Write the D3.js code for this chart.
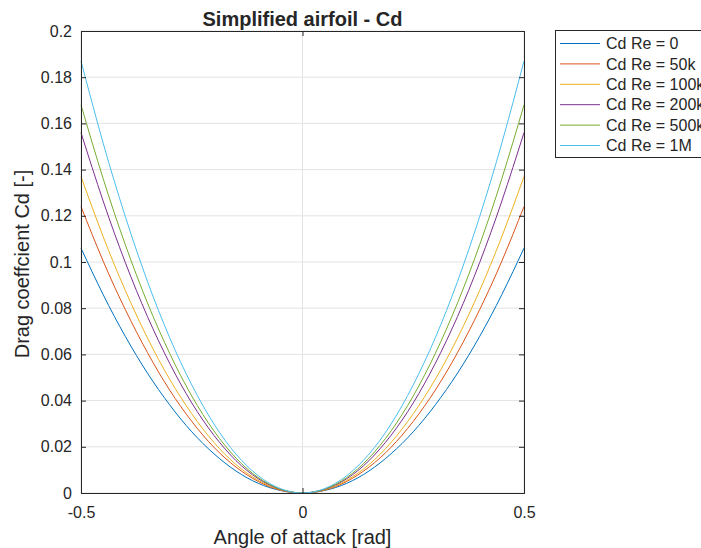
<!DOCTYPE html>
<html>
<head>
<meta charset="utf-8">
<script src="https://cdn.jsdelivr.net/npm/d3@7"></script>
<style>
  body { margin: 0; background: #fff; }
  text { font-family: "Liberation Sans", Arial, sans-serif; fill: #262626; }
</style>
</head>
<body>
<div id="chart"></div>
<script>
// angle of attack samples [rad]
var alpha = [-0.5, -0.45, -0.4, -0.35, -0.3, -0.25, -0.2, -0.15, -0.1, -0.05, 0,
             0.05, 0.1, 0.15, 0.2, 0.25, 0.3, 0.35, 0.4, 0.45, 0.5];

// Cd values for each Reynolds number
var cdRe0 = [0.106, 0.0859, 0.0678, 0.0519, 0.0382, 0.0265, 0.0170, 0.0095, 0.0042, 0.0011, 0,
             0.0011, 0.0042, 0.0095, 0.0170, 0.0265, 0.0382, 0.0519, 0.0678, 0.0859, 0.106];
var cdRe50k = [0.124, 0.1004, 0.0794, 0.0608, 0.0446, 0.0310, 0.0198, 0.0112, 0.0050, 0.0012, 0,
               0.0012, 0.0050, 0.0112, 0.0198, 0.0310, 0.0446, 0.0608, 0.0794, 0.1004, 0.124];
var cdRe100k = [0.137, 0.1110, 0.0877, 0.0671, 0.0493, 0.0343, 0.0219, 0.0123, 0.0055, 0.0014, 0,
                0.0014, 0.0055, 0.0123, 0.0219, 0.0343, 0.0493, 0.0671, 0.0877, 0.1110, 0.137];
var cdRe200k = [0.156, 0.1264, 0.0998, 0.0764, 0.0562, 0.0390, 0.0250, 0.0140, 0.0062, 0.0016, 0,
                0.0016, 0.0062, 0.0140, 0.0250, 0.0390, 0.0562, 0.0764, 0.0998, 0.1264, 0.156];
var cdRe500k = [0.168, 0.1361, 0.1075, 0.0823, 0.0605, 0.0420, 0.0269, 0.0151, 0.0067, 0.0017, 0,
                0.0017, 0.0067, 0.0151, 0.0269, 0.0420, 0.0605, 0.0823, 0.1075, 0.1361, 0.168];
var cdRe1M = [0.187, 0.1515, 0.1197, 0.0916, 0.0673, 0.0468, 0.0299, 0.0168, 0.0075, 0.0019, 0,
              0.0019, 0.0075, 0.0168, 0.0299, 0.0468, 0.0673, 0.0916, 0.1197, 0.1515, 0.187];

var seriesNames = ["Cd Re = 0", "Cd Re = 50k", "Cd Re = 100k", "Cd Re = 200k", "Cd Re = 500k", "Cd Re = 1M"];
var seriesValues = [cdRe0, cdRe50k, cdRe100k, cdRe200k, cdRe500k, cdRe1M];
var colors = ["#0072BD", "#D95319", "#EDB120", "#7E2F8E", "#77AC30", "#4DBEEE"];

var xTicks = [-0.5, 0, 0.5];
var xTickLabels = ["-0.5", "0", "0.5"];
var yTicks = [0, 0.02, 0.04, 0.06, 0.08, 0.1, 0.12, 0.14, 0.16, 0.18, 0.2];
var yTickLabels = ["0", "0.02", "0.04", "0.06", "0.08", "0.1", "0.12", "0.14", "0.16", "0.18", "0.2"];

var svgWidth = 701, svgHeight = 548;
var margin = { top: 31, right: 177, bottom: 55, left: 81 };
var chartWidth = svgWidth - margin.left - margin.right;
var chartHeight = svgHeight - margin.top - margin.bottom;

var svg = d3.select("#chart").append("svg")
    .attr("width", svgWidth)
    .attr("height", svgHeight);

svg.append("rect").attr("width", svgWidth).attr("height", svgHeight).attr("fill", "#fff");

var chartGroup = svg.append("g")
    .attr("transform", `translate(${margin.left}, ${margin.top})`);

var xScale = d3.scaleLinear().domain([-0.5, 0.5]).range([0, chartWidth]);
var yScale = d3.scaleLinear().domain([0, 0.2]).range([chartHeight, 0]);

// grid lines
chartGroup.append("g")
    .selectAll("line")
    .data(yTicks)
    .enter()
    .append("line")
    .attr("x1", 0).attr("x2", chartWidth)
    .attr("y1", d => yScale(d)).attr("y2", d => yScale(d))
    .attr("stroke", "#e3e3e3").attr("stroke-width", 1);

chartGroup.append("g")
    .selectAll("line")
    .data(xTicks)
    .enter()
    .append("line")
    .attr("x1", d => xScale(d)).attr("x2", d => xScale(d))
    .attr("y1", 0).attr("y2", chartHeight)
    .attr("stroke", "#e3e3e3").attr("stroke-width", 1);

// curves
var line = d3.line()
    .x((d, i) => xScale(alpha[i]))
    .y(d => yScale(d))
    .curve(d3.curveNatural);

chartGroup.selectAll("path.curve")
    .data(seriesValues)
    .enter()
    .append("path")
    .attr("class", "curve")
    .attr("d", d => line(d))
    .attr("fill", "none")
    .attr("stroke", (d, i) => colors[i])
    .attr("stroke-width", 1);

// axes (inward ticks, box on)
var axisColor = "#262626";
var xAxis = d3.axisBottom(xScale).tickValues(xTicks).tickSize(-5).tickPadding(14)
    .tickFormat((d, i) => xTickLabels[i]);
var yAxis = d3.axisLeft(yScale).tickValues(yTicks).tickSize(-5).tickPadding(9)
    .tickFormat((d, i) => yTickLabels[i]);

chartGroup.append("g")
    .attr("transform", `translate(0, ${chartHeight})`)
    .call(xAxis);
chartGroup.append("g").call(yAxis);

chartGroup.append("g")
    .call(d3.axisTop(xScale).tickValues(xTicks).tickSize(-5).tickFormat(""));
chartGroup.append("g")
    .attr("transform", `translate(${chartWidth}, 0)`)
    .call(d3.axisRight(yScale).tickValues(yTicks).tickSize(-5).tickFormat(""));

chartGroup.selectAll(".domain").attr("stroke", axisColor);
chartGroup.selectAll(".tick line").attr("stroke", axisColor);
chartGroup.selectAll(".tick text")
    .attr("font-family", "Liberation Sans, Arial, sans-serif")
    .attr("font-size", "16px")
    .attr("fill", axisColor);

// title and axis labels
svg.append("text")
    .attr("x", margin.left + chartWidth / 2)
    .attr("y", 26)
    .attr("text-anchor", "middle")
    .attr("font-size", "20px")
    .attr("font-weight", "bold")
    .attr("fill", "#000")
    .text("Simplified airfoil - Cd");

svg.append("text")
    .attr("x", margin.left + chartWidth / 2)
    .attr("y", 544)
    .attr("text-anchor", "middle")
    .attr("font-size", "20px")
    .text("Angle of attack [rad]");

svg.append("text")
    .attr("transform", `translate(29, 264) rotate(-90)`)
    .attr("text-anchor", "middle")
    .attr("font-size", "20px")
    .text("Drag coeffcient Cd [-]");

// legend
var legend = svg.append("g").attr("transform", "translate(555, 30)");
legend.append("rect")
    .attr("x", 0.5).attr("y", 0.5)
    .attr("width", 170).attr("height", 127)
    .attr("fill", "#fff")
    .attr("stroke", axisColor).attr("stroke-width", 1);

var rows = legend.selectAll("g.row")
    .data(seriesNames)
    .enter()
    .append("g")
    .attr("transform", (d, i) => `translate(0, ${13.5 + i * 20.4})`);

rows.append("line")
    .attr("x1", 5).attr("x2", 45)
    .attr("y1", 0).attr("y2", 0)
    .attr("stroke", (d, i) => colors[i])
    .attr("stroke-width", 1);

rows.append("text")
    .attr("x", 51)
    .attr("y", 0)
    .attr("dy", "0.35em")
    .attr("font-size", "16px")
    .text(d => d);
</script>
</body>
</html>
